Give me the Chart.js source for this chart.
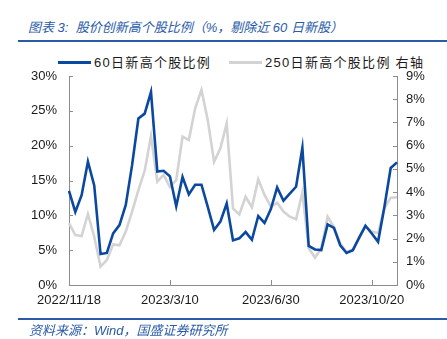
<!doctype html>
<html lang="zh">
  <head>
    <meta charset="utf-8">
    <title>股价创新高个股比例</title>
    <script src="https://cdn.jsdelivr.net/npm/chart.js"></script>
    <style>
      body { margin: 0; width: 447px; height: 339px; position: relative; overflow: hidden; background: #fff;
             font-family: "Liberation Sans", "Noto Sans CJK SC", sans-serif; }
      #chart { position: absolute; left: 0; top: 0; }
      .title { position: absolute; left: 28px; top: 17px; font-size: 13px; font-style: italic; color: #2a5ba8; white-space: nowrap; }
      .rule { position: absolute; left: 18px; right: 0; height: 2px; background: #2a5ba8; }
      .legend { position: absolute; top: 52px; font-size: 13px; letter-spacing: 1.3px; color: #1a1a1a; white-space: nowrap; }
      .legend span.swatch { display: inline-block; width: 33px; height: 3px; vertical-align: middle; margin-right: 3px; position: relative; top: -1px; }
      .source { position: absolute; left: 29px; top: 320px; font-size: 13px; font-style: italic; color: #2a5ba8; white-space: nowrap; }
    </style>
  </head>
  <body>
    <div class="title">图表 3:&nbsp; 股价创新高个股比例（%，剔除近 60 日新股）</div>
    <div class="rule" style="top:40px"></div>
    <div class="legend" style="left:58px"><span class="swatch" style="background:#0b48a0"></span>60日新高个股比例</div>
    <div class="legend" style="left:229px"><span class="swatch" style="background:#d3d3d3"></span>250日新高个股比例 右轴</div>
    <canvas id="chart" width="447" height="339"></canvas>
    <div class="rule" style="top:318px"></div>
    <div class="source">资料来源：Wind，国盛证券研究所</div>
    <script>
      const dates = [
        '2022/11/18', '2022/11/25', '2022/12/2', '2022/12/9', '2022/12/16', '2022/12/23', '2022/12/30',
        '2023/1/6', '2023/1/13', '2023/1/20', '2023/1/27', '2023/2/3', '2023/2/10', '2023/2/17', '2023/2/24',
        '2023/3/3', '2023/3/10', '2023/3/17', '2023/3/24', '2023/3/31', '2023/4/7', '2023/4/14', '2023/4/21',
        '2023/4/28', '2023/5/5', '2023/5/12', '2023/5/19', '2023/5/26', '2023/6/2', '2023/6/9', '2023/6/16',
        '2023/6/23', '2023/6/30', '2023/7/7', '2023/7/14', '2023/7/21', '2023/7/28', '2023/8/4', '2023/8/11',
        '2023/8/18', '2023/8/25', '2023/9/1', '2023/9/8', '2023/9/15', '2023/9/22', '2023/9/29', '2023/10/6',
        '2023/10/13', '2023/10/20', '2023/10/27', '2023/11/3', '2023/11/10', '2023/11/17'
      ];
      const shownLabels = ['2022/11/18', '2023/3/10', '2023/6/30', '2023/10/20'];

      // 60日新高个股比例 (%), left axis
      const high60 = [
        13.5, 10.5, 12.9, 17.7, 14.3, 4.45, 4.6, 7.4, 8.6, 11.5, 17.2, 23.9, 24.6, 27.7, 16.3, 16.4,
        15.6, 11.3, 15.5, 13.0, 14.4, 14.4, 11.2, 7.9, 9.1, 11.7, 6.4, 6.7, 7.6, 6.5, 9.9, 8.9,
        10.9, 14.0, 12.1, 13.1, 14.1, 19.7, 5.6, 5.1, 5.0, 8.7, 8.2, 5.7, 4.6, 5.0, 6.8, 8.5,
        7.4, 6.2, 11.2, 16.8, 17.6
      ];
      // 250日新高个股比例 (%), right axis
      const high250 = [
        2.66, 2.15, 2.11, 3.06, 2.08, 0.79, 1.08, 1.75, 1.71, 2.30, 3.16, 4.09, 4.92, 6.42, 4.45, 4.74,
        4.22, 4.52, 6.39, 6.24, 7.61, 8.40, 7.1, 5.31, 5.89, 6.96, 3.30, 3.04, 3.80, 3.35, 4.55, 3.88,
        3.37, 3.54, 3.16, 2.94, 2.83, 3.98, 1.58, 1.18, 1.58, 2.94, 2.51, 1.79, 1.43, 1.51, 2.01, 2.55,
        2.30, 2.23, 3.30, 3.76, 3.78
      ];

      const axisColor = '#8c8c8c';
      const tickFont = { family: '"Liberation Sans", sans-serif', size: 13 };

      // small inward tick marks, like the original
      const innerTicks = {
        id: 'innerTicks',
        afterDraw(chart) {
          const { ctx, chartArea, scales } = chart;
          ctx.save();
          ctx.strokeStyle = axisColor;
          ctx.lineWidth = 1;
          ctx.beginPath();
          scales.y.ticks.forEach(t => {
            const py = Math.round(scales.y.getPixelForValue(t.value)) + 0.5;
            ctx.moveTo(chartArea.left, py);
            ctx.lineTo(chartArea.left + 4, py);
          });
          scales.y2.ticks.forEach(t => {
            const py = Math.round(scales.y2.getPixelForValue(t.value)) + 0.5;
            ctx.moveTo(chartArea.right, py);
            ctx.lineTo(chartArea.right - 4, py);
          });
          shownLabels.slice(1).forEach(d => {
            const px = Math.round(scales.x.getPixelForValue(dates.indexOf(d))) + 0.5;
            ctx.moveTo(px, chartArea.bottom);
            ctx.lineTo(px, chartArea.bottom - 5);
          });
          ctx.stroke();
          ctx.restore();
        }
      };

      const ctx = document.getElementById('chart').getContext('2d');
      new Chart(ctx, {
        type: 'line',
        data: {
          labels: dates,
          datasets: [
            {
              label: '60日新高个股比例',
              data: high60,
              yAxisID: 'y',
              borderColor: '#0b48a0',
              borderWidth: 2.6,
              pointRadius: 0,
              tension: 0,
              fill: false
            },
            {
              label: '250日新高个股比例 右轴',
              data: high250,
              yAxisID: 'y2',
              borderColor: '#d3d3d3',
              borderWidth: 2.6,
              pointRadius: 0,
              tension: 0,
              fill: false
            }
          ]
        },
        options: {
          responsive: false,
          animation: false,
          layout: { padding: { top: 76, left: 0, right: 0, bottom: 0 } },
          plugins: { legend: { display: false }, tooltip: { enabled: false } },
          scales: {
            x: {
              offset: false,
              grid: { display: false, drawTicks: false },
              border: { display: true, color: axisColor },
              afterFit: s => { s.height = 54; },
              ticks: {
                autoSkip: false, maxRotation: 0, padding: 8, color: '#1a1a1a', font: tickFont,
                callback: (v, i) => shownLabels.includes(dates[i]) ? dates[i] : ''
              }
            },
            y: {
              position: 'left',
              min: 0, max: 30,
              grid: { display: false, drawTicks: false },
              border: { display: true, color: axisColor },
              afterFit: s => { s.width = 69; },
              ticks: { stepSize: 5, padding: 12, color: '#1a1a1a', font: tickFont, callback: v => v + '%' }
            },
            y2: {
              position: 'right',
              min: 0, max: 9,
              grid: { display: false, drawTicks: false },
              border: { display: true, color: axisColor },
              afterFit: s => { s.width = 50; },
              ticks: { stepSize: 1, padding: 9, color: '#1a1a1a', font: tickFont, callback: v => v + '%' }
            }
          }
        },
        plugins: [innerTicks]
      });
    </script>
  </body>
</html>
